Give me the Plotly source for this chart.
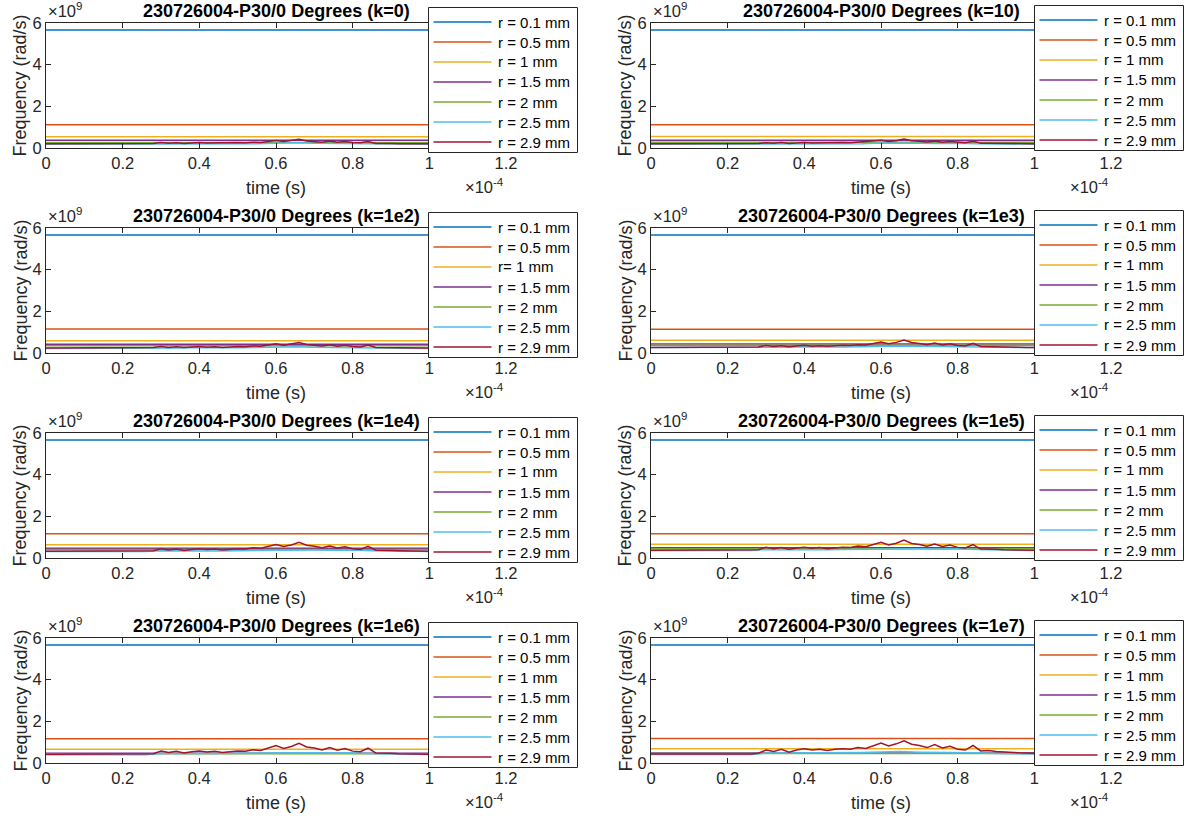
import plotly.graph_objects as go

# ---------------- data (time in units of 1e-4 s, frequency in units of 1e9 rad/s) -------------
K_LABELS = ["0", "10", "1e2", "1e3", "1e4", "1e5", "1e6", "1e7"]
TITLE_PREFIX = "230726004-P30/0 Degrees"

R_LABELS = ["r = 0.1 mm", "r = 0.5 mm", "r = 1 mm", "r = 1.5 mm",
            "r = 2 mm", "r = 2.5 mm", "r = 2.9 mm"]
R_LABELS_1E2 = ["r = 0.1 mm", "r = 0.5 mm", "r= 1 mm", "r = 1.5 mm",
                "r = 2 mm", "r = 2.5 mm", "r = 2.9 mm"]

COLORS = ["#0072BD", "#D95319", "#EDB120", "#7E2F8E", "#77AC30", "#4DBEEE", "#A2142F"]

T_CONST = [0.0, 1.0]

# constant-frequency radii, one value per k
F_R01 = [5.67, 5.67, 5.67, 5.67, 5.67, 5.67, 5.67, 5.67]
F_R05 = [1.12, 1.12, 1.15, 1.14, 1.17, 1.17, 1.17, 1.18]
F_R10 = [0.54, 0.55, 0.59, 0.61, 0.64, 0.66, 0.66, 0.68]
F_R15 = [0.37, 0.37, 0.42, 0.43, 0.47, 0.49, 0.47, 0.48]
F_R20 = [0.27, 0.28, 0.35, 0.37, 0.41, 0.44, 0.45, 0.46]

# r = 2.5 mm
T_CYAN = [0, 0.26, 0.30, 0.35, 0.40, 0.45, 0.50, 0.55, 0.60, 0.65, 0.70, 0.75, 0.80, 0.85, 0.90, 0.95, 1.00]
CYAN_0 = [0.18, 0.18, 0.20, 0.19, 0.21, 0.19, 0.20, 0.21, 0.23, 0.25, 0.23, 0.22, 0.23, 0.20, 0.19, 0.18, 0.18]
CYAN_10 = [0.18, 0.18, 0.20, 0.20, 0.21, 0.19, 0.20, 0.21, 0.24, 0.25, 0.23, 0.22, 0.23, 0.20, 0.19, 0.18, 0.18]
CYAN_1E2 = [0.22, 0.22, 0.25, 0.24, 0.26, 0.24, 0.25, 0.26, 0.28, 0.30, 0.28, 0.27, 0.28, 0.25, 0.24, 0.23, 0.22]
CYAN_1E3 = [0.26, 0.26, 0.29, 0.28, 0.30, 0.28, 0.29, 0.30, 0.32, 0.34, 0.32, 0.31, 0.32, 0.29, 0.28, 0.27, 0.26]
CYAN_1E4 = [0.31, 0.31, 0.35, 0.34, 0.36, 0.34, 0.35, 0.36, 0.38, 0.40, 0.38, 0.37, 0.38, 0.35, 0.33, 0.32, 0.31]
CYAN_1E5 = [0.36, 0.36, 0.41, 0.40, 0.42, 0.40, 0.41, 0.42, 0.44, 0.46, 0.44, 0.43, 0.44, 0.41, 0.39, 0.37, 0.36]
CYAN_1E6 = [0.40, 0.40, 0.46, 0.45, 0.47, 0.46, 0.47, 0.48, 0.50, 0.51, 0.49, 0.48, 0.49, 0.46, 0.44, 0.42, 0.41]
CYAN_1E7 = [0.41, 0.41, 0.48, 0.48, 0.50, 0.49, 0.50, 0.51, 0.53, 0.55, 0.52, 0.51, 0.52, 0.49, 0.46, 0.44, 0.43]

# r = 2.9 mm
T_RED = [0, 0.26, 0.28, 0.30, 0.32, 0.34, 0.36, 0.38, 0.40, 0.42, 0.44, 0.46, 0.48, 0.50,
         0.52, 0.54, 0.56, 0.58, 0.60, 0.62, 0.64, 0.66, 0.68, 0.70, 0.72, 0.74, 0.76,
         0.78, 0.80, 0.82, 0.84, 0.86, 0.88, 0.90, 0.92, 0.94, 0.96, 0.98, 1.00]
RED_0 = [0.21, 0.21, 0.22, 0.26, 0.23, 0.25, 0.22, 0.24, 0.26, 0.24, 0.25, 0.23, 0.25, 0.26,
         0.25, 0.28, 0.27, 0.32, 0.36, 0.31, 0.35, 0.42, 0.34, 0.32, 0.28, 0.33, 0.28,
         0.31, 0.26, 0.25, 0.31, 0.22, 0.23, 0.22, 0.21, 0.21, 0.21, 0.20, 0.20]
RED_10 = [0.21, 0.21, 0.22, 0.25, 0.23, 0.26, 0.22, 0.24, 0.27, 0.24, 0.25, 0.23, 0.26, 0.26,
          0.25, 0.28, 0.28, 0.33, 0.37, 0.31, 0.35, 0.43, 0.35, 0.32, 0.29, 0.33, 0.28,
          0.31, 0.27, 0.25, 0.32, 0.23, 0.23, 0.22, 0.21, 0.21, 0.21, 0.21, 0.20]
RED_1E2 = [0.24, 0.24, 0.26, 0.31, 0.27, 0.30, 0.26, 0.29, 0.31, 0.28, 0.30, 0.27, 0.30, 0.31,
           0.30, 0.34, 0.32, 0.39, 0.44, 0.37, 0.42, 0.50, 0.41, 0.38, 0.34, 0.40, 0.33,
           0.37, 0.31, 0.29, 0.38, 0.27, 0.27, 0.26, 0.25, 0.25, 0.24, 0.24, 0.24]
RED_1E3 = [0.27, 0.27, 0.29, 0.36, 0.31, 0.35, 0.30, 0.34, 0.37, 0.33, 0.35, 0.32, 0.35, 0.37,
           0.36, 0.40, 0.38, 0.47, 0.53, 0.45, 0.51, 0.62, 0.50, 0.46, 0.40, 0.48, 0.39,
           0.44, 0.36, 0.34, 0.46, 0.31, 0.31, 0.30, 0.29, 0.28, 0.28, 0.27, 0.27]
RED_1E4 = [0.32, 0.32, 0.35, 0.44, 0.38, 0.43, 0.36, 0.41, 0.45, 0.41, 0.43, 0.39, 0.43, 0.45,
           0.43, 0.49, 0.47, 0.57, 0.65, 0.55, 0.62, 0.75, 0.61, 0.56, 0.49, 0.58, 0.48,
           0.54, 0.44, 0.41, 0.56, 0.37, 0.38, 0.36, 0.35, 0.34, 0.33, 0.33, 0.32]
RED_1E5 = [0.37, 0.37, 0.40, 0.51, 0.44, 0.50, 0.42, 0.48, 0.52, 0.47, 0.50, 0.45, 0.50, 0.52,
           0.50, 0.57, 0.54, 0.66, 0.75, 0.63, 0.71, 0.86, 0.70, 0.65, 0.56, 0.67, 0.55,
           0.62, 0.51, 0.48, 0.64, 0.43, 0.44, 0.42, 0.40, 0.39, 0.38, 0.38, 0.37]
RED_1E6 = [0.42, 0.42, 0.45, 0.57, 0.50, 0.56, 0.48, 0.54, 0.58, 0.53, 0.56, 0.51, 0.56, 0.58,
           0.56, 0.63, 0.60, 0.73, 0.84, 0.70, 0.79, 0.94, 0.77, 0.72, 0.63, 0.74, 0.61,
           0.69, 0.57, 0.54, 0.71, 0.48, 0.49, 0.47, 0.45, 0.44, 0.43, 0.43, 0.42]
RED_1E7 = [0.43, 0.43, 0.47, 0.62, 0.55, 0.66, 0.52, 0.62, 0.68, 0.62, 0.66, 0.60, 0.66, 0.68,
           0.66, 0.74, 0.70, 0.84, 0.96, 0.82, 0.92, 1.06, 0.90, 0.84, 0.74, 0.88, 0.72,
           0.80, 0.66, 0.62, 0.84, 0.58, 0.60, 0.55, 0.52, 0.50, 0.49, 0.48, 0.47]

CYAN = [CYAN_0, CYAN_10, CYAN_1E2, CYAN_1E3, CYAN_1E4, CYAN_1E5, CYAN_1E6, CYAN_1E7]
RED = [RED_0, RED_10, RED_1E2, RED_1E3, RED_1E4, RED_1E5, RED_1E6, RED_1E7]

X_TICKS = [0, 0.2, 0.4, 0.6, 0.8, 1.0, 1.2]
X_TICKTEXT = ["0", "0.2", "0.4", "0.6", "0.8", "1", "1.2"]
Y_TICKS = [0, 2, 4, 6]
Y_TICKTEXT = ["0", "2", "4", "6"]

T_SCALE = 1e-4
F_SCALE = 1e9

# ---------------- layout geometry (pixels) ----------------
W, H = 1197, 819
AX_LEFT = [46, 651]
AX_W = 460
AX_TOP0 = 23
AX_H = 125
ROW_STEP = 205
LEG_LEFT = [428, 1034]
LEG_TOP0 = [7, 5]
LEG_W = 149
LEG_H = 145
LEG_ITEM0 = 14.7
LEG_STEP = 19.9
LINE_W = 1.5

FONT = "Liberation Sans, Arial, Helvetica, sans-serif"
AXC = "#262626"


def px(xp):
    return xp / W


def py(yp):
    return 1 - yp / H


fig = go.Figure()
layout = dict(width=W, height=H, margin=dict(l=0, r=0, t=0, b=0),
              paper_bgcolor="white", plot_bgcolor="white", showlegend=False,
              font=dict(family=FONT, color=AXC))
annotations = []
shapes = []

for i, k in enumerate(K_LABELS):
    row, col = divmod(i, 2)
    n = i + 1
    xa = "x" if n == 1 else f"x{n}"
    ya = "y" if n == 1 else f"y{n}"
    labels = R_LABELS_1E2 if k == "1e2" else R_LABELS

    series = [
        (T_CONST, [F_R01[i], F_R01[i]]),
        (T_CONST, [F_R05[i], F_R05[i]]),
        (T_CONST, [F_R10[i], F_R10[i]]),
        (T_CONST, [F_R15[i], F_R15[i]]),
        (T_CONST, [F_R20[i], F_R20[i]]),
        (T_CYAN, CYAN[i]),
        (T_RED, RED[i]),
    ]
    for j, (tt, ff) in enumerate(series):
        fig.add_trace(go.Scatter(
            x=[t * T_SCALE for t in tt], y=[f * F_SCALE for f in ff],
            mode="lines", line=dict(color=COLORS[j], width=LINE_W),
            name=labels[j], xaxis=xa, yaxis=ya, hoverinfo="skip"))

    x0 = AX_LEFT[col]
    top = AX_TOP0 + ROW_STEP * row
    bot = top + AX_H
    xkey = "xaxis" if n == 1 else f"xaxis{n}"
    ykey = "yaxis" if n == 1 else f"yaxis{n}"
    layout[xkey] = dict(
        domain=[px(x0), px(x0 + AX_W)], anchor=ya, range=[0, 1.2 * T_SCALE],
        tickvals=[t * T_SCALE for t in X_TICKS], ticktext=X_TICKTEXT,
        ticks="inside", ticklen=5, tickcolor=AXC, showline=True, linecolor=AXC,
        linewidth=1, mirror="ticks", showgrid=False, zeroline=False, automargin=False,
        tickfont=dict(size=16.5, color=AXC, family=FONT))
    layout[ykey] = dict(
        domain=[py(bot), py(top)], anchor=xa, range=[0, 6 * F_SCALE],
        tickvals=[v * F_SCALE for v in Y_TICKS], ticktext=Y_TICKTEXT,
        ticks="inside", ticklen=5, tickcolor=AXC, showline=True, linecolor=AXC,
        linewidth=1, mirror="ticks", showgrid=False, zeroline=False, automargin=False,
        tickfont=dict(size=16.5, color=AXC, family=FONT))

    # axis labels
    annotations.append(dict(
        text="time (s)", x=px(x0 + AX_W / 2), y=py(bot + 40), xref="paper", yref="paper",
        xanchor="center", yanchor="middle", showarrow=False,
        font=dict(size=18, color=AXC, family=FONT)))
    annotations.append(dict(
        text="Frequency (rad/s)", x=px(x0 - 26), y=py((top + bot) / 2), xref="paper",
        yref="paper", xanchor="center", yanchor="middle", textangle=-90, showarrow=False,
        font=dict(size=18, color=AXC, family=FONT)))
    # title
    annotations.append(dict(
        text=f"<b>{TITLE_PREFIX} ({'k=' + k})</b>", x=px(x0 + AX_W / 2), y=py(top),
        xref="paper", yref="paper", xanchor="center", yanchor="bottom", showarrow=False,
        font=dict(size=18, color="black", family=FONT)))
    # exponent labels
    annotations.append(dict(
        text="×10<sup>9</sup>", x=px(x0), y=py(top - 1), xref="paper", yref="paper",
        xanchor="left", yanchor="bottom", showarrow=False,
        font=dict(size=16.5, color=AXC, family=FONT)))
    annotations.append(dict(
        text="×10<sup>-4</sup>", x=px(x0 + AX_W), y=py(bot + 26), xref="paper", yref="paper",
        xanchor="right", yanchor="top", showarrow=False,
        font=dict(size=16.5, color=AXC, family=FONT)))

    # legend box (drawn over the axes, like the MATLAB legend)
    L = LEG_LEFT[col] + 0.5
    T = LEG_TOP0[col] + ROW_STEP * row + 0.5
    shapes.append(dict(type="rect", xref="paper", yref="paper", layer="above",
                       x0=px(L), x1=px(L + LEG_W), y0=py(T + LEG_H), y1=py(T),
                       fillcolor="white", line=dict(color=AXC, width=1)))
    for j in range(7):
        yy = round(T + LEG_ITEM0 + LEG_STEP * j)
        shapes.append(dict(type="line", xref="paper", yref="paper", layer="above",
                           x0=px(L + 5), x1=px(L + 63), y0=py(yy), y1=py(yy),
                           line=dict(color=COLORS[j], width=LINE_W)))
        annotations.append(dict(
            text=labels[j], x=px(L + 67), y=py(yy), xref="paper", yref="paper",
            xanchor="left", yanchor="middle", showarrow=False,
            font=dict(size=15, color="black", family=FONT)))

layout["annotations"] = annotations
layout["shapes"] = shapes
fig.update_layout(**layout)
fig.write_html("out.html")
